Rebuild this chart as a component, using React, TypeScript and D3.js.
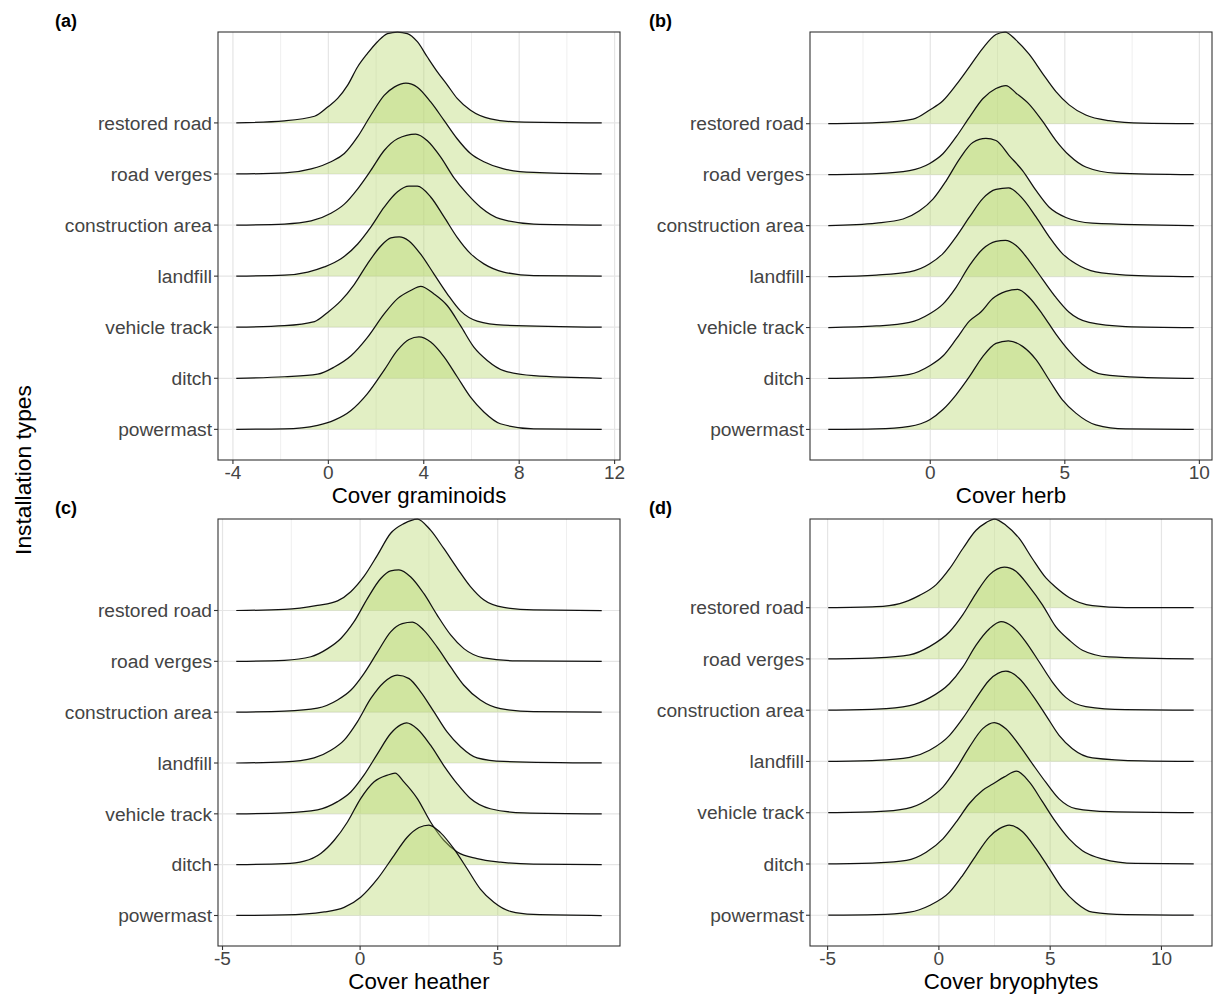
import React from "react";
import * as d3 from "d3";

type Pt = [number, number];

// rows, top to bottom
const categories = [
  "restored road",
  "road verges",
  "construction area",
  "landfill",
  "vehicle track",
  "ditch",
  "powermast",
];

const panelTags = ["(a)", "(b)", "(c)", "(d)"];
const axisTitles = ["Cover graminoids", "Cover herb", "Cover heather", "Cover bryophytes"];
const majorTicks = [[-4, 0, 4, 8, 12], [0, 5, 10], [-5, 0, 5], [-5, 0, 5, 10]];
const minorTicks = [[-2, 2, 6, 10], [-2.5, 2.5, 7.5], [-2.5, 2.5, 7.5], [-2.5, 2.5, 7.5]];

// ridge heights (scaled density, in row units)
const graminoids: Pt[][] = [
  [[-3.86, 0], [-1.84, 0.04], [-0.58, 0.13], [-0.03, 0.31], [0.39, 0.48], [0.81, 0.74], [1.23, 1.1], [1.64, 1.36], [2.06, 1.59], [2.48, 1.75], [2.9, 1.78], [3.31, 1.75], [3.73, 1.59], [4.15, 1.29], [4.57, 1.0], [4.99, 0.74], [5.4, 0.48], [5.96, 0.25], [6.8, 0.08], [7.91, 0.02], [11.46, 0]],
  [[-3.86, 0], [-1.84, 0.02], [-0.72, 0.1], [0.11, 0.24], [0.67, 0.4], [1.23, 0.73], [1.78, 1.15], [2.34, 1.54], [2.76, 1.7], [3.25, 1.78], [3.73, 1.7], [4.29, 1.41], [4.85, 1.05], [5.4, 0.69], [5.96, 0.4], [6.52, 0.24], [7.35, 0.1], [8.61, 0.03], [11.46, 0]],
  [[-3.86, 0], [-1.84, 0.02], [-0.72, 0.08], [0.11, 0.23], [0.67, 0.41], [1.23, 0.71], [1.78, 1.07], [2.34, 1.46], [2.9, 1.69], [3.66, 1.78], [4.15, 1.65], [4.71, 1.33], [5.26, 0.93], [5.82, 0.61], [6.38, 0.35], [7.21, 0.12], [8.61, 0.02], [11.46, 0]],
  [[-3.86, 0], [-1.84, 0.02], [-0.86, 0.08], [-0.17, 0.18], [0.53, 0.34], [1.23, 0.63], [1.78, 0.96], [2.34, 1.35], [2.9, 1.65], [3.38, 1.76], [3.73, 1.76], [4.29, 1.55], [4.85, 1.16], [5.4, 0.76], [5.96, 0.44], [6.52, 0.24], [7.35, 0.08], [8.61, 0.01], [11.46, 0]],
  [[-3.86, 0], [-1.84, 0.03], [-0.58, 0.11], [-0.03, 0.29], [0.53, 0.52], [1.09, 0.84], [1.64, 1.24], [2.2, 1.59], [2.62, 1.75], [2.97, 1.77], [3.38, 1.69], [3.87, 1.43], [4.43, 1.04], [4.99, 0.65], [5.54, 0.32], [6.24, 0.12], [7.35, 0.04], [11.46, 0]],
  [[-3.86, 0], [-1.84, 0.03], [-0.45, 0.08], [0.25, 0.22], [0.95, 0.44], [1.64, 0.8], [2.34, 1.26], [2.9, 1.56], [3.45, 1.72], [3.87, 1.8], [4.43, 1.65], [4.99, 1.42], [5.54, 1.03], [6.1, 0.61], [6.66, 0.35], [7.35, 0.15], [8.61, 0.05], [11.46, 0]],
  [[-3.86, 0], [-1.84, 0.01], [-0.45, 0.08], [0.25, 0.18], [0.95, 0.37], [1.64, 0.7], [2.34, 1.16], [2.9, 1.55], [3.38, 1.76], [3.8, 1.81], [4.29, 1.71], [4.85, 1.42], [5.4, 1.03], [5.96, 0.63], [6.52, 0.34], [7.21, 0.11], [8.61, 0.01], [11.46, 0]],
];

const herb: Pt[][] = [
  [[-3.79, 0], [-2.0, 0.02], [-0.64, 0.09], [-0.02, 0.27], [0.47, 0.45], [0.96, 0.76], [1.46, 1.12], [1.95, 1.48], [2.44, 1.75], [2.78, 1.8], [3.19, 1.64], [3.68, 1.36], [4.17, 0.99], [4.67, 0.63], [5.16, 0.37], [5.78, 0.17], [6.64, 0.06], [7.88, 0.01], [9.79, 0]],
  [[-3.79, 0], [-2.0, 0.02], [-0.77, 0.08], [-0.02, 0.22], [0.47, 0.41], [0.96, 0.74], [1.46, 1.13], [1.95, 1.49], [2.44, 1.69], [2.81, 1.75], [3.19, 1.6], [3.68, 1.38], [4.17, 1.05], [4.67, 0.67], [5.16, 0.38], [5.78, 0.15], [6.89, 0.03], [9.79, 0]],
  [[-3.79, 0], [-2.0, 0.05], [-1.01, 0.13], [-0.4, 0.29], [0.1, 0.52], [0.59, 0.88], [1.09, 1.31], [1.58, 1.63], [2.07, 1.71], [2.44, 1.67], [2.94, 1.37], [3.43, 1.08], [3.93, 0.69], [4.42, 0.36], [5.04, 0.16], [6.02, 0.05], [9.79, 0]],
  [[-3.79, 0], [-2.0, 0.03], [-0.77, 0.09], [-0.02, 0.25], [0.47, 0.45], [0.96, 0.78], [1.46, 1.17], [1.95, 1.53], [2.44, 1.71], [2.91, 1.74], [3.43, 1.53], [3.93, 1.17], [4.42, 0.78], [4.91, 0.45], [5.41, 0.25], [6.15, 0.09], [7.26, 0.03], [9.79, 0]],
  [[-3.79, 0], [-2.0, 0.03], [-0.77, 0.1], [-0.02, 0.27], [0.47, 0.46], [0.96, 0.79], [1.46, 1.22], [1.95, 1.54], [2.44, 1.69], [2.79, 1.71], [3.19, 1.61], [3.68, 1.31], [4.17, 0.95], [4.67, 0.59], [5.16, 0.3], [5.9, 0.1], [7.26, 0.02], [9.79, 0]],
  [[-3.79, 0], [-2.0, 0.02], [-0.77, 0.08], [-0.02, 0.25], [0.47, 0.44], [0.96, 0.77], [1.46, 1.13], [1.89, 1.31], [2.32, 1.57], [2.81, 1.71], [3.25, 1.75], [3.68, 1.59], [4.17, 1.26], [4.67, 0.87], [5.16, 0.54], [5.65, 0.28], [6.4, 0.08], [7.88, 0.02], [9.79, 0]],
  [[-3.79, 0], [-2.0, 0.01], [-0.77, 0.06], [-0.02, 0.19], [0.47, 0.39], [0.96, 0.68], [1.46, 1.04], [1.95, 1.43], [2.44, 1.69], [2.9, 1.74], [3.43, 1.63], [3.93, 1.37], [4.42, 0.97], [4.91, 0.58], [5.41, 0.32], [6.15, 0.09], [7.26, 0.01], [9.79, 0]],
];

const heather: Pt[][] = [
  [[-4.5, 0], [-2.75, 0.02], [-1.55, 0.1], [-0.82, 0.19], [-0.34, 0.37], [0.14, 0.67], [0.63, 1.09], [1.11, 1.52], [1.59, 1.71], [2.08, 1.8], [2.56, 1.58], [3.04, 1.22], [3.53, 0.83], [4.01, 0.47], [4.49, 0.21], [5.22, 0.06], [6.3, 0.01], [8.78, 0]],
  [[-4.5, 0], [-2.75, 0.02], [-1.79, 0.09], [-1.18, 0.25], [-0.7, 0.45], [-0.22, 0.78], [0.27, 1.24], [0.75, 1.63], [1.11, 1.78], [1.41, 1.8], [1.84, 1.66], [2.32, 1.33], [2.8, 0.91], [3.29, 0.52], [3.77, 0.25], [4.49, 0.07], [5.7, 0.01], [8.78, 0]],
  [[-4.5, 0], [-2.75, 0.02], [-1.55, 0.08], [-0.82, 0.24], [-0.34, 0.43], [0.14, 0.76], [0.63, 1.18], [1.11, 1.58], [1.53, 1.74], [1.9, 1.77], [2.32, 1.61], [2.8, 1.28], [3.29, 0.89], [3.77, 0.53], [4.37, 0.24], [5.1, 0.07], [6.3, 0.01], [8.78, 0]],
  [[-4.5, 0], [-2.75, 0.02], [-1.67, 0.1], [-1.06, 0.25], [-0.58, 0.45], [-0.1, 0.81], [0.39, 1.27], [0.87, 1.59], [1.35, 1.73], [1.78, 1.66], [2.2, 1.4], [2.68, 1.01], [3.16, 0.61], [3.65, 0.32], [4.25, 0.1], [5.22, 0.03], [8.78, 0]],
  [[-4.5, 0], [-2.75, 0.02], [-1.55, 0.08], [-0.82, 0.24], [-0.34, 0.43], [0.14, 0.76], [0.63, 1.18], [1.11, 1.58], [1.47, 1.75], [1.69, 1.79], [2.08, 1.67], [2.56, 1.35], [3.04, 0.95], [3.53, 0.59], [4.01, 0.3], [4.73, 0.1], [5.94, 0.02], [8.78, 0]],
  [[-4.5, 0], [-2.75, 0.02], [-2.03, 0.07], [-1.43, 0.22], [-0.94, 0.48], [-0.46, 0.84], [0.02, 1.3], [0.51, 1.63], [0.99, 1.76], [1.27, 1.8], [1.59, 1.63], [2.08, 1.3], [2.56, 0.84], [3.04, 0.48], [3.53, 0.25], [4.25, 0.12], [5.1, 0.05], [6.3, 0.01], [8.78, 0]],
  [[-4.5, 0], [-2.75, 0.01], [-1.3, 0.07], [-0.58, 0.16], [0.02, 0.36], [0.63, 0.72], [1.23, 1.18], [1.71, 1.54], [2.14, 1.73], [2.5, 1.78], [2.92, 1.63], [3.41, 1.31], [3.89, 0.92], [4.37, 0.52], [4.86, 0.26], [5.46, 0.08], [6.3, 0.02], [8.78, 0]],
];

const bryophytes: Pt[][] = [
  [[-4.97, 0], [-2.81, 0.02], [-1.76, 0.08], [-0.87, 0.24], [-0.12, 0.45], [0.48, 0.76], [1.07, 1.15], [1.67, 1.51], [2.12, 1.66], [2.49, 1.73], [3.01, 1.61], [3.61, 1.35], [4.21, 0.95], [4.81, 0.58], [5.25, 0.4], [5.85, 0.2], [6.9, 0.04], [8.39, 0], [11.45, 0]],
  [[-4.97, 0], [-2.81, 0.02], [-1.31, 0.08], [-0.42, 0.24], [0.48, 0.53], [1.07, 0.86], [1.67, 1.28], [2.27, 1.64], [2.94, 1.79], [3.46, 1.71], [4.06, 1.41], [4.66, 1.05], [5.25, 0.63], [5.85, 0.37], [6.45, 0.17], [7.64, 0.04], [11.45, 0]],
  [[-4.97, 0], [-2.81, 0.02], [-1.31, 0.09], [-0.42, 0.24], [0.48, 0.52], [1.07, 0.84], [1.67, 1.27], [2.27, 1.59], [2.79, 1.73], [3.31, 1.63], [3.91, 1.33], [4.51, 0.94], [5.1, 0.55], [5.7, 0.25], [6.6, 0.07], [8.39, 0.01], [11.45, 0]],
  [[-4.97, 0], [-2.81, 0.02], [-1.31, 0.08], [-0.42, 0.22], [0.48, 0.51], [1.07, 0.84], [1.67, 1.23], [2.27, 1.59], [3.01, 1.76], [3.61, 1.62], [4.21, 1.29], [4.81, 0.9], [5.4, 0.51], [6.0, 0.25], [6.9, 0.07], [9.13, 0.01], [11.45, 0]],
  [[-4.97, 0], [-2.81, 0.02], [-1.46, 0.08], [-0.57, 0.24], [0.18, 0.5], [0.78, 0.86], [1.37, 1.28], [1.97, 1.64], [2.49, 1.76], [3.01, 1.64], [3.61, 1.32], [4.21, 0.95], [4.81, 0.59], [5.4, 0.27], [6.15, 0.08], [7.64, 0.02], [11.45, 0]],
  [[-4.97, 0], [-2.81, 0.02], [-1.46, 0.07], [-0.57, 0.23], [0.18, 0.49], [0.78, 0.82], [1.37, 1.18], [1.97, 1.44], [2.42, 1.56], [2.94, 1.7], [3.49, 1.81], [4.06, 1.6], [4.66, 1.21], [5.25, 0.82], [5.85, 0.49], [6.45, 0.26], [7.34, 0.1], [8.84, 0.01], [11.45, 0]],
  [[-4.97, 0], [-2.81, 0.01], [-1.31, 0.06], [-0.42, 0.19], [0.48, 0.45], [1.07, 0.78], [1.67, 1.17], [2.27, 1.53], [2.72, 1.69], [3.16, 1.76], [3.76, 1.63], [4.36, 1.3], [4.96, 0.91], [5.55, 0.52], [6.15, 0.25], [6.9, 0.06], [8.39, 0.01], [11.45, 0]],
];

const panelData = [graminoids, herb, heather, bryophytes];

const FONT = "'Liberation Sans', Arial, Helvetica, sans-serif";
const boxes = [
  { x0: 218, x1: 620, y0: 32, y1: 460, tagX: 55, tagY: 27 },
  { x0: 810, x1: 1212, y0: 32, y1: 460, tagX: 649, tagY: 27 },
  { x0: 218, x1: 620, y0: 519, y1: 946, tagX: 55, tagY: 514 },
  { x0: 810, x1: 1212, y0: 519, y1: 946, tagX: 649, tagY: 514 },
];

function Panel({ idx }: { idx: number }) {
  const ridges = panelData[idx];
  const b = boxes[idx];
  const n = categories.length;

  const allX = ridges.flat().map((d) => d[0]);
  const [lo, hi] = d3.extent(allX) as [number, number];
  const pad = (hi - lo) * 0.05;
  const x = d3.scaleLinear().domain([lo - pad, hi + pad]).range([b.x0, b.x1]);

  const topVal = d3.max(ridges, (r, i) => n - i + (d3.max(r, (d) => d[1]) as number)) as number;
  const y = d3.scaleLinear().domain([0.4, topVal]).range([b.y1, b.y0]);

  return (
    <g>
      {/* grid */}
      {minorTicks[idx].map((t) => (
        <line key={"mi" + t} x1={x(t)} x2={x(t)} y1={b.y0} y2={b.y1} stroke="#efefef" strokeWidth={1} />
      ))}
      {majorTicks[idx].map((t) => (
        <line key={"ma" + t} x1={x(t)} x2={x(t)} y1={b.y0} y2={b.y1} stroke="#e5e5e5" strokeWidth={1.2} />
      ))}
      {categories.map((c, i) => (
        <line key={"h" + c} x1={b.x0} x2={b.x1} y1={y(n - i)} y2={y(n - i)} stroke="#e5e5e5" strokeWidth={1.2} />
      ))}

      {/* ridges, top row first so lower rows sit on top */}
      {ridges.map((r, i) => {
        const base = n - i;
        const area = d3
          .area<Pt>()
          .x((d) => x(d[0]))
          .y0(y(base))
          .y1((d) => y(base + d[1]))
          .curve(d3.curveMonotoneX);
        const line = d3
          .line<Pt>()
          .x((d) => x(d[0]))
          .y((d) => y(base + d[1]))
          .curve(d3.curveMonotoneX);
        return (
          <g key={"r" + i}>
            <path d={area(r) || ""} fill="rgb(183,215,108)" fillOpacity={0.4} />
            <path d={line(r) || ""} fill="none" stroke="#111" strokeWidth={1.25} />
          </g>
        );
      })}

      {/* box */}
      <rect x={b.x0} y={b.y0} width={b.x1 - b.x0} height={b.y1 - b.y0} fill="none" stroke="#333" strokeWidth={1.1} />

      {/* y axis */}
      {categories.map((c, i) => (
        <g key={"yt" + c}>
          <line x1={b.x0 - 4} x2={b.x0} y1={y(n - i)} y2={y(n - i)} stroke="#333" strokeWidth={1.1} />
          <text x={b.x0 - 6} y={y(n - i)} dy="0.35em" textAnchor="end" fontSize={19.2} fill="#444" fontFamily={FONT}>
            {c}
          </text>
        </g>
      ))}

      {/* x axis */}
      {majorTicks[idx].map((t) => (
        <g key={"xt" + t}>
          <line x1={x(t)} x2={x(t)} y1={b.y1} y2={b.y1 + 4} stroke="#333" strokeWidth={1.1} />
          <text x={x(t)} y={b.y1 + 19} textAnchor="middle" fontSize={19} fill="#444" fontFamily={FONT}>
            {t}
          </text>
        </g>
      ))}
      <text x={(b.x0 + b.x1) / 2} y={b.y1 + 43} textAnchor="middle" fontSize={22.3} fill="#000" fontFamily={FONT}>
        {axisTitles[idx]}
      </text>

      <text x={b.tagX} y={b.tagY} fontSize={18} fontWeight="bold" fill="#000" fontFamily={FONT}>
        {panelTags[idx]}
      </text>
    </g>
  );
}

export default function App() {
  return (
    <div style={{ position: "absolute", left: 0, top: 0 }}>
      <svg width={1215} height={994} style={{ display: "block", background: "#fff" }}>
        <rect width={1215} height={994} fill="#fff" />
        {[0, 1, 2, 3].map((i) => (
          <Panel key={i} idx={i} />
        ))}
        <text
          transform="translate(31,470) rotate(-90)"
          textAnchor="middle"
          fontSize={22.8}
          fill="#000"
          fontFamily={FONT}
        >
          Installation types
        </text>
      </svg>
    </div>
  );
}
